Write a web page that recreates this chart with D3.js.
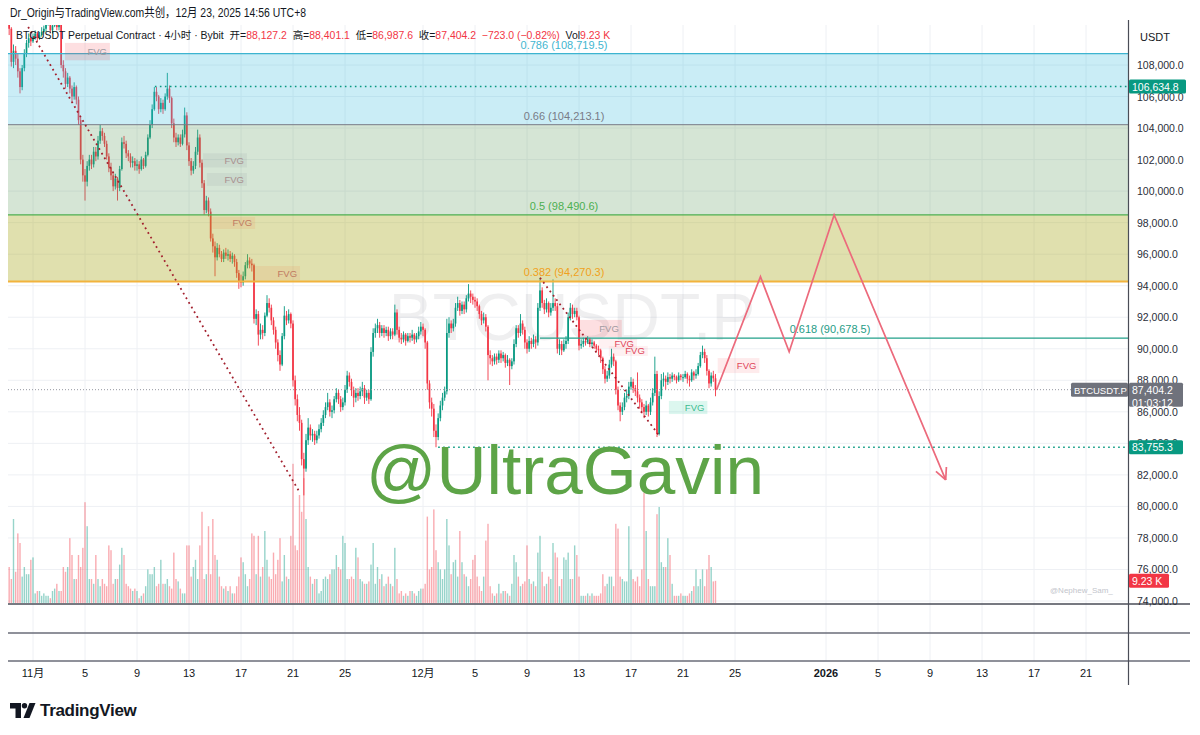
<!DOCTYPE html>
<html><head><meta charset="utf-8">
<script src="https://cdn.jsdelivr.net/npm/d3@7"></script>
<style>
body{margin:0;background:#fff;}
svg{display:block;font-family:"Liberation Sans","Noto Sans CJK SC",sans-serif;}
</style></head>
<body><svg id="c" width="1200" height="735"></svg>
<script>
// ---------------- DATA (prices in thousands of USDT, 4h bars from 2025-10-30 04:00 UTC+8) ----------------
const firstOpen = 110.6;
const closes = [
110.3,108.2,108.9,108.4,107.6,
106.6,107.8,108.7,109.4,109.7,109.5,
109.8,110.0,109.7,109.9,110.1,110.3,
110.6,110.9,110.2,110.5,110.8,110.4,
110.6,108.0,107.6,106.8,107.2,106.5,
106.0,106.6,105.8,104.5,102.0,101.0,
100.6,101.6,102.0,101.7,102.5,102.2,
103.2,103.8,103.5,103.0,102.2,101.5,
101.0,100.3,100.8,100.2,101.4,103.1,
103.0,102.4,102.2,101.8,101.9,101.6,
101.7,101.4,102.0,101.6,102.3,103.4,
104.2,105.2,106.3,106.0,105.2,105.6,
105.2,106.0,106.5,105.9,104.3,103.4,
103.1,103.4,103.0,103.6,104.8,102.9,
101.9,101.3,101.6,102.5,103.4,101.8,
100.5,98.8,99.4,98.7,97.0,96.5,
95.8,96.4,96.0,95.7,96.1,95.9,
96.0,95.7,95.9,95.5,94.8,94.3,
94.2,94.6,95.3,95.6,95.4,95.3,
91.9,92.2,90.9,91.2,91.0,92.1,
92.9,92.6,91.8,91.2,90.4,89.6,
89.0,90.8,92.1,91.8,92.2,91.6,
88.0,86.8,85.8,85.3,83.0,82.4,
84.2,85.0,84.5,84.6,84.2,84.5,
84.9,85.3,85.8,86.3,86.6,86.0,
86.1,86.8,87.2,86.8,86.3,86.6,
87.4,88.3,87.9,87.4,86.9,87.2,
87.0,87.3,87.5,86.9,87.2,86.8,
89.8,91.0,91.3,91.5,91.0,91.3,
91.0,91.2,90.8,91.1,90.9,92.3,
91.2,90.7,90.6,90.9,90.5,90.8,
90.7,90.9,90.6,90.8,91.1,91.4,
91.2,90.4,87.8,86.6,86.2,84.8,
84.4,85.6,86.4,86.9,87.3,91.0,
91.6,91.3,91.6,92.6,92.9,92.4,
92.8,92.5,93.2,93.5,93.3,93.1,
93.0,92.7,92.2,91.8,92.0,91.4,
89.6,89.4,89.2,89.5,89.3,89.7,
89.4,89.6,89.1,89.3,88.9,89.2,
90.3,91.3,91.0,91.6,91.2,90.4,
90.0,90.5,90.3,90.6,90.4,92.6,
93.7,92.9,92.5,92.9,92.3,92.6,
92.9,92.7,90.0,90.3,89.9,90.3,
90.5,92.0,92.6,92.2,92.4,92.0,
90.2,90.3,90.5,90.4,90.6,90.3,
90.4,90.2,90.0,89.9,89.4,88.7,
88.1,88.3,89.0,89.5,89.2,87.4,
86.4,86.0,86.3,86.9,87.0,87.6,
87.9,87.5,87.3,86.9,86.6,86.3,
86.0,86.4,86.0,86.6,87.2,88.4,
84.6,87.0,88.0,88.1,87.9,88.2,
88.1,88.3,88.2,88.0,88.3,88.2,
88.2,88.4,88.1,88.0,88.5,88.3,
88.4,88.9,89.6,89.8,89.4,88.6,
87.8,88.3,88.1272,87.4042
];
const highs = [
111.0,110.4,109.3,109.2,108.7,
107.8,108.0,109.0,109.6,110.0,110.0,
110.0,110.2,110.1,110.1,110.4,110.5,
110.9,111.2,111.0,110.7,111.1,110.9,
110.9,110.8,108.3,107.8,107.5,107.3,
106.7,106.9,106.7,106.0,104.7,102.3,
101.4,101.9,102.3,102.3,102.8,102.8,
103.5,104.2,104.0,103.7,103.2,102.4,
101.8,101.2,101.1,100.9,101.6,103.4,
103.5,103.2,102.6,102.4,102.2,102.1,
102.0,101.9,102.2,102.1,102.5,103.6,
104.5,105.5,106.6,106.6,106.1,105.9,
105.8,106.2,107.5,106.7,106.0,104.6,
103.7,103.6,103.6,103.9,105.3,105.0,
103.1,102.1,101.9,102.8,103.9,103.6,
102.0,100.7,99.7,99.6,98.9,97.3,
96.8,96.7,96.6,96.2,96.3,96.4,
96.3,96.2,96.1,96.0,95.7,95.0,
94.7,94.9,95.5,96.0,95.8,95.7,
95.4,92.5,92.4,91.6,91.5,92.3,
93.4,93.2,92.8,92.0,91.4,90.6,
89.9,91.0,92.7,92.4,92.5,92.3,
91.8,88.3,87.1,86.3,85.5,83.4,
84.6,85.6,85.2,84.9,84.8,84.8,
85.2,85.6,86.1,86.6,87.2,86.8,
86.4,87.0,87.5,87.4,87.0,86.9,
87.7,88.6,88.5,88.1,87.6,87.5,
87.5,87.6,87.9,87.7,87.4,87.4,
90.1,91.3,91.6,91.9,91.7,91.5,
91.5,91.4,91.4,91.3,91.3,92.8,
92.5,91.4,91.0,91.1,91.0,91.0,
91.0,91.2,91.0,91.0,91.4,91.7,
91.6,91.3,90.5,88.0,86.9,86.5,
85.2,85.9,86.7,87.2,87.6,91.9,
92.0,91.8,91.9,92.9,93.3,93.1,
93.0,93.0,93.4,94.1,93.7,93.5,
93.3,93.2,92.8,92.4,92.3,92.2,
91.5,89.9,89.6,89.7,89.7,89.9,
89.9,89.8,89.7,89.6,89.4,89.4,
90.6,91.5,91.5,92.2,91.8,91.4,
90.6,90.8,90.7,90.9,90.8,92.9,
94.5,93.9,93.1,93.2,93.0,92.9,
94.4,93.2,92.9,90.6,90.5,90.6,
90.8,92.3,92.9,92.8,92.6,92.6,
92.1,90.6,90.7,90.7,90.8,90.7,
90.6,90.5,90.3,90.2,90.0,89.5,
88.9,88.6,89.3,90.0,89.7,89.3,
87.6,86.6,86.6,87.2,87.4,87.9,
88.2,88.1,87.7,88.5,87.1,86.8,
86.5,86.7,86.5,86.9,87.5,89.5,
88.6,87.3,88.4,88.5,88.3,88.5,
88.4,88.5,88.4,88.3,88.5,88.4,
88.4,88.6,88.5,88.3,88.7,88.6,
88.7,89.1,89.8,90.2,90.0,89.6,
88.7,88.5,88.6,88.4011
];
const lows = [
109.9,107.9,107.8,108.0,107.2,
106.2,106.4,107.6,108.5,109.1,109.2,
109.4,109.6,109.5,109.6,109.8,110.0,
110.1,110.5,110.0,110.0,110.4,110.2,
110.2,107.8,107.2,106.5,106.6,106.2,
105.6,105.8,105.5,104.2,101.7,100.6,
99.4,100.3,101.3,101.4,101.5,101.9,
102.0,103.0,103.2,102.8,102.0,101.2,
100.7,100.0,100.1,99.4,100.0,101.3,
102.7,102.1,101.9,101.5,101.5,101.3,
101.3,101.1,101.3,101.4,101.5,102.2,
103.3,104.0,105.1,105.7,104.9,105.0,
104.9,105.1,105.8,105.6,104.0,103.1,
102.8,102.9,102.8,102.9,103.4,102.6,
101.6,101.0,101.1,101.4,102.3,101.5,
100.2,98.5,98.6,98.4,96.8,96.1,
94.6,95.6,95.8,95.5,95.5,95.7,
95.6,95.5,95.4,95.2,94.5,93.8,
93.9,94.0,94.4,95.1,95.1,94.9,
91.6,91.5,90.2,90.6,90.6,90.8,
92.0,92.3,91.5,90.9,90.0,89.2,
88.6,88.9,90.6,91.5,91.6,91.3,
87.6,86.4,85.4,84.8,82.6,80.7,
82.2,83.9,84.2,84.1,83.9,84.0,
84.3,84.7,85.1,85.6,86.1,85.7,
85.6,85.9,86.6,86.5,86.0,86.1,
86.4,87.2,87.6,87.0,86.3,86.6,
86.7,86.8,87.0,86.5,86.7,86.5,
86.7,89.5,90.7,91.0,90.7,90.8,
90.7,90.8,90.5,90.6,90.6,90.8,
90.9,90.4,90.3,90.4,90.2,90.4,
90.4,90.5,90.3,90.4,90.6,90.9,
90.8,90.0,87.4,86.2,85.7,84.4,
83.7553,84.2,85.4,86.1,86.7,87.1,
90.7,91.0,91.1,91.4,92.4,92.1,
92.2,92.2,92.3,93.0,92.9,92.8,
92.6,92.4,91.9,91.5,91.6,91.1,
88.0,89.0,88.9,89.0,89.0,89.1,
89.1,89.2,88.8,88.9,87.7,88.7,
89.0,90.1,90.7,90.8,90.9,90.0,
89.7,89.8,90.0,90.1,90.0,90.2,
92.4,92.6,92.2,92.3,92.0,92.1,
92.4,92.4,89.7,89.6,89.6,89.8,
90.0,90.3,91.8,91.9,92.0,91.8,
89.9,90.0,90.1,90.2,90.3,90.1,
90.1,90.0,89.8,89.6,89.1,88.4,
87.8,87.9,88.1,88.8,88.9,87.1,
86.1,85.4,85.8,86.1,86.6,86.8,
87.4,87.2,87.0,86.6,86.2,85.9,
85.6,85.8,85.7,85.8,86.4,87.0,
84.4,84.5,86.8,87.6,87.4,87.7,
87.8,87.9,88.0,87.8,87.9,88.0,
87.9,88.1,87.8,87.6,87.9,88.0,
88.1,88.3,88.8,89.4,89.1,88.3,
87.5,87.6,87.9,86.9876
];
// volume in K
const volumes = [
15,10,35,13,29,
25,11,15,12,12,18,
19,4,5,5,3,4,
3,3,2,5,6,8,
5,5,15,13,15,27,
20,10,10,20,15,23,
42,32,10,10,8,20,
10,7,10,8,7,24,
22,8,10,10,16,23,
20,8,7,6,5,6,
5,2,3,4,7,14,
12,12,15,7,8,18,
8,8,10,7,6,21,
10,9,6,4,4,24,
24,11,15,18,10,24,
38,10,12,32,12,35,
20,18,11,7,6,7,
5,7,4,4,7,11,
19,17,12,7,10,29,
28,12,28,11,15,30,
18,11,10,21,12,18,
27,9,20,11,10,28,
58,24,22,45,38,52,
35,15,11,8,10,10,
4,5,10,11,10,12,
14,14,20,15,14,28,
25,10,10,11,10,23,
19,10,9,8,8,9,
16,25,8,15,10,12,
7,8,11,8,7,23,
10,4,5,3,4,3,
5,5,4,3,5,6,
6,8,36,14,15,39,
22,17,14,10,14,35,
24,12,17,18,11,30,
17,12,11,7,10,18,
20,11,7,5,11,26,
33,7,4,3,4,8,
4,5,5,4,3,8,
20,17,11,7,8,9,
24,10,8,9,7,21,
28,13,7,8,11,10,
25,21,19,7,10,19,
18,21,10,10,24,20,
11,3,3,3,4,3,
4,3,3,3,4,12,
7,8,11,11,7,33,
31,11,10,9,9,32,
14,10,9,11,7,14,
46,30,10,7,7,7,
37,40,17,15,15,27,
20,8,3,3,3,4,
3,3,3,4,5,7,
14,7,10,14,7,14,
20,15,9,9.23
];
const firstBar = new Date(2025, 9, 30, 4, 0);

// price axis ticks
const priceTicks = [74000,76000,78000,80000,82000,84000,86000,88000,90000,92000,94000,96000,98000,100000,102000,104000,106000,108000];
// time axis ticks
const timeTicks = [[2025,10,1],[2025,10,5],[2025,10,9],[2025,10,13],[2025,10,17],[2025,10,21],[2025,10,25],[2025,11,1],[2025,11,5],[2025,11,9],[2025,11,13],[2025,11,17],[2025,11,21],[2025,11,25],[2026,0,1],[2026,0,5],[2026,0,9],[2026,0,13],[2026,0,17],[2026,0,21]];
const timeLabels = ["11月","5","9","13","17","21","25","12月","5","9","13","17","21","25","2026","5","9","13","17","21"];

// fib levels
const fibRatios = ["0.786","0.66","0.5","0.382","0.618"];
const fibPrices = [108719.5,104213.1,98490.6,94270.3,90678.5];
const fibStart = [null,null,null,null,[2025,11,10,0]];

// horizontal price marks
const peakLevel = 106634.8, peakStart = [2025,10,10,9];
const lowLevel = 83755.3, lowStart = [2025,11,2,4];
const lastPrice = 87404.2;
const countdown = "01:03:12";
const changeText = "−723.0 (−0.82%)";
const volText = "9.23 K";

// trend dotted lines [date, price]
const trend1 = [[[2025,9,31,0],111300],[[2025,10,21,13],80850]];
const trend2 = [[[2025,11,10,0],94500],[[2025,11,19,5],84450]];

// projected path
const projection = [[[2025,11,23,14],87404],[[2025,11,26,23],94570],[[2025,11,29,4],89810],[[2026,0,1,15],98490],[[2026,0,10,5],81680]];

// FVG boxes: start, end, top, bottom, kind
const fvgs = [
 [[2025,10,3,11],[2025,10,6,22],109400,108300,"pink"],
 [[2025,10,14,2],[2025,10,17,11],102400,101500,"gray"],
 [[2025,10,14,9],[2025,10,17,11],101150,100330,"gray"],
 [[2025,10,14,19],[2025,10,18,2],98360,97600,"tan"],
 [[2025,10,18,2],[2025,10,21,13],95250,94360,"tan"],
 [[2025,11,12,22],[2025,11,16,7],91830,90750,"pink"],
 [[2025,11,14,12],[2025,11,17,11],90620,90050,"pinkfaint"],
 [[2025,11,15,7],[2025,11,18,7],90180,89540,"pinkfaint"],
 [[2025,11,23,16],[2025,11,26,21],89410,88460,"red"],
 [[2025,11,19,22],[2025,11,22,21],86690,85860,"green"]
];

// ---------------- DRAWING ----------------
const D = a => new Date(a[0], a[1], a[2], a[3]||0, a[4]||0);
const svg = d3.select("#c");
const L = 8, R = 1128, T = 25, B = 604;
const x = d3.scaleTime().domain([new Date(2025,10,1), new Date(2025,11,1)]).range([33, 423]);
const y = d3.scaleLinear().domain([74000,108000]).range([601,65]);
const yv = d3.scaleLinear().domain([0,60]).range([603,459]);
const fmt = d3.format(",.1f");

const bars = closes.map((c,i)=>({
  t: new Date(firstBar.getTime() + i*4*3600*1000),
  o: (i===0? firstOpen : closes[i-1])*1000, c: c*1000, h: highs[i]*1000, l: lows[i]*1000, v: volumes[i]
}));

svg.append("rect").attr("width",1200).attr("height",735).attr("fill","#fff");
const defs = svg.append("defs");
defs.append("clipPath").attr("id","pane").append("rect").attr("x",L).attr("y",T).attr("width",R-L).attr("height",B-T);

// grid
const grid = svg.append("g");
grid.selectAll("line.h").data(priceTicks).join("line")
  .attr("x1",L).attr("x2",R).attr("y1",d=>y(d)).attr("y2",d=>y(d))
  .attr("stroke","#eef0f4").attr("stroke-width",1);
grid.selectAll("line.v").data(timeTicks).join("line")
  .attr("x1",d=>x(D(d))).attr("x2",d=>x(D(d))).attr("y1",T).attr("y2",661)
  .attr("stroke","#eef0f4").attr("stroke-width",1);

const pane = svg.append("g").attr("clip-path","url(#pane)");

// watermark
pane.append("text").attr("x",572).attr("y",340).attr("text-anchor","middle")
  .attr("font-size",66).attr("fill","#787b86").attr("fill-opacity",0.12).text("BTCUSDT.P");

// volume
pane.append("g").selectAll("rect").data(bars).join("rect")
  .attr("x",d=>x(d.t)-0.7).attr("width",1.4)
  .attr("y",d=>yv(d.v)).attr("height",d=>yv(0)-yv(d.v))
  .attr("fill",d=>d.c>=d.o?"rgba(8,153,129,0.42)":"rgba(242,54,69,0.42)");

// candles
const cg = pane.append("g");
cg.selectAll("line").data(bars).join("line")
  .attr("x1",d=>x(d.t)).attr("x2",d=>x(d.t)).attr("y1",d=>y(d.h)).attr("y2",d=>y(d.l))
  .attr("stroke",d=>d.c>=d.o?"#089981":"#f23645").attr("stroke-width",0.9);
cg.selectAll("rect").data(bars).join("rect")
  .attr("x",d=>x(d.t)-0.85).attr("width",1.7)
  .attr("y",d=>y(Math.max(d.o,d.c))).attr("height",d=>Math.max(1,Math.abs(y(d.o)-y(d.c))))
  .attr("fill",d=>d.c>=d.o?"#089981":"#f23645");

// fib zones
const zoneFills = ["rgba(60,190,220,0.27)","rgba(100,160,100,0.27)","rgba(170,168,30,0.36)"];
for(let i=0;i<3;i++){
  pane.append("rect").attr("x",L).attr("width",R-L)
    .attr("y",y(fibPrices[i])).attr("height",y(fibPrices[i+1])-y(fibPrices[i]))
    .attr("fill",zoneFills[i]);
}
const fibColors = ["#3db4d0","#787b86","#4caf50","#f2b33d","#22a08a"];
const fibWidths = [1.3,1,1.2,2,1.3];
const labelColors = ["#3fb6d0","#787b86","#4caf50","#f0a020","#1f9c86"];
fibPrices.forEach((p,i)=>{
  const x1 = fibStart[i]? x(D(fibStart[i])) : L;
  pane.append("line").attr("x1",x1).attr("x2",R).attr("y1",y(p)).attr("y2",y(p))
    .attr("stroke",fibColors[i]).attr("stroke-width",fibWidths[i]);
  svg.append("text").attr("x",(x1+R)/2 - 4).attr("y",y(p)-5).attr("text-anchor","middle")
    .attr("font-size",11).attr("fill",labelColors[i]).text(`${fibRatios[i]} (${fmt(p)})`);
});

// horizontal dotted levels
pane.append("line").attr("x1",x(D(peakStart))).attr("x2",R).attr("y1",y(peakLevel)).attr("y2",y(peakLevel))
  .attr("stroke","#089981").attr("stroke-width",1.6).attr("stroke-dasharray","1.6,3.4");
pane.append("line").attr("x1",x(D(lowStart))).attr("x2",R).attr("y1",y(lowLevel)).attr("y2",y(lowLevel))
  .attr("stroke","#089981").attr("stroke-width",1.6).attr("stroke-dasharray","1.6,3.4");
pane.append("line").attr("x1",L).attr("x2",R).attr("y1",y(lastPrice)).attr("y2",y(lastPrice))
  .attr("stroke","#9598a1").attr("stroke-width",1).attr("stroke-dasharray","1,2");

// trend dotted lines
[trend1,trend2].forEach(tl=>{
  pane.append("line").attr("x1",x(D(tl[0][0]))).attr("y1",y(tl[0][1]))
    .attr("x2",x(D(tl[1][0]))).attr("y2",y(tl[1][1]))
    .attr("stroke","#a3202e").attr("stroke-width",1.8).attr("stroke-dasharray","1.8,3.6");
});

// FVG boxes
const fvgStyle = {
  pink:{fill:"rgba(242,54,69,0.16)",text:"#a09aa0"},
  gray:{fill:"rgba(120,123,134,0.10)",text:"#a88f8f"},
  tan:{fill:"rgba(235,140,90,0.16)",text:"#c07a62"},
  pinkfaint:{fill:"rgba(242,54,69,0.07)",text:"#e0455a"},
  red:{fill:"rgba(242,54,69,0.10)",text:"#e0455a"},
  green:{fill:"rgba(8,200,140,0.14)",text:"#3dbb8f"}
};
fvgs.forEach(f=>{
  const st = fvgStyle[f[4]];
  const x1 = x(D(f[0])), x2 = x(D(f[1])), y1 = y(f[2]), y2 = y(f[3]);
  pane.append("rect").attr("x",x1).attr("y",y1).attr("width",x2-x1).attr("height",y2-y1).attr("fill",st.fill);
  pane.append("text").attr("x",x2-3).attr("y",(y1+y2)/2+3.5).attr("text-anchor","end")
    .attr("font-size",9.5).attr("fill",st.text).text("FVG");
});

// projection path
const pts = projection.map(p=>[x(D(p[0])), y(p[1])]);
svg.append("path").attr("d",d3.line()(pts)).attr("fill","none")
  .attr("stroke","#ec6a7c").attr("stroke-width",1.7).attr("stroke-linejoin","miter");
{
  const [ax,ay] = pts[pts.length-1], [bx,by] = pts[pts.length-2];
  const ang = Math.atan2(ay-by, ax-bx), len = 13;
  [0.45,-0.45].forEach(da=>{
    svg.append("line").attr("x1",ax).attr("y1",ay)
      .attr("x2",ax - len*Math.cos(ang+da)).attr("y2",ay - len*Math.sin(ang+da))
      .attr("stroke","#ec6a7c").attr("stroke-width",1.7);
  });
}

// overlay texts
svg.append("text").attr("x",366).attr("y",494).attr("font-size",69).attr("fill","#5da447")
  .attr("textLength",398).attr("lengthAdjust","spacingAndGlyphs").text("@UltraGavin");
svg.append("text").attr("x",1050).attr("y",593).attr("font-size",8).attr("fill","#c3c5cc").text("@Nephew_Sam_");

// pane separators
[604,633,661].forEach((yy,i)=>{
  svg.append("line").attr("x1",L).attr("x2",1190).attr("y1",yy).attr("y2",yy)
    .attr("stroke",i===0?"#4a4d57":"#6a6d78").attr("stroke-width",i===0?1.6:1.3);
});
svg.append("line").attr("x1",R+0.5).attr("x2",R+0.5).attr("y1",T-5).attr("y2",685)
  .attr("stroke","#4a4d57").attr("stroke-width",1.2);

// right axis
svg.append("text").attr("x",1140).attr("y",41).attr("font-size",11).attr("fill","#131722").text("USDT");
svg.selectAll("text.pt").data(priceTicks).join("text")
  .attr("x",1137).attr("y",d=>y(d)+4).attr("font-size",10.5).attr("fill","#2a2e39").text(d=>fmt(d));

function badge(x0,yc,w,h,fill,lines,fs){
  svg.append("rect").attr("x",x0).attr("y",yc-7).attr("width",w).attr("height",h).attr("rx",1.5).attr("fill",fill);
  lines.forEach((s,i)=>svg.append("text").attr("x",x0+3).attr("y",yc+4+i*13).attr("font-size",fs||10.5).attr("fill","#fff").text(s));
}
badge(1129,y(peakLevel),57,14,"#089981",[fmt(peakLevel)]);
badge(1071,y(lastPrice),57,14,"#6f727c",["BTCUSDT.P"],9.5);
badge(1129,y(lastPrice),54,24,"#6f727c",[fmt(lastPrice),countdown]);
badge(1129,y(lowLevel),54,14,"#089981",[fmt(lowLevel)]);
badge(1129,yv(volumes[volumes.length-1]),40,14,"#f23645",[volText]);

// time axis
svg.selectAll("text.tt").data(timeTicks).join("text")
  .attr("x",(d)=>x(D(d))).attr("y",677).attr("text-anchor","middle")
  .attr("font-size",11).attr("font-weight",(d,i)=>timeLabels[i]==="2026"?"bold":"normal")
  .attr("fill","#131722").text((d,i)=>timeLabels[i]);

// header
svg.append("text").attr("x",10).attr("y",17).attr("font-size",12.5).attr("fill","#131722")
  .attr("textLength",296).attr("lengthAdjust","spacingAndGlyphs")
  .text("Dr_Origin与TradingView.com共创，12月 23, 2025 14:56 UTC+8");
const last = bars[bars.length-1];
const legendParts = [
  ["BTCUSDT Perpetual Contract · 4小时 · Bybit  ","#131722"],
  ["开=","#131722"],[fmt(last.o)+"  ","#f23645"],
  ["高=","#131722"],[fmt(last.h)+"  ","#f23645"],
  ["低=","#131722"],[fmt(last.l)+"  ","#f23645"],
  ["收=","#131722"],[fmt(last.c)+"  ","#f23645"],
  [changeText+"  ","#f23645"],
  ["Vol","#131722"],[volText,"#f23645"]
];
const lgText = svg.append("text").attr("x",16).attr("y",39).attr("font-size",11.5).attr("xml:space","preserve").style("white-space","pre");
legendParts.forEach(p=>lgText.append("tspan").attr("fill",p[1]).text(p[0]));
{
  const w = lgText.node().getComputedTextLength();
  lgText.attr("font-size", 11.5*595/w);
}

// TradingView logo
const lg = svg.append("g").attr("fill","#131722");
lg.append("path").attr("d","M10,703 H21 V718 H15.5 V708.5 H10 Z");
lg.append("circle").attr("cx",24.5).attr("cy",705.8).attr("r",2.7);
lg.append("path").attr("d","M29.5,703 H35.5 L29.5,718 H23.5 Z");
svg.append("text").attr("x",40).attr("y",716).attr("font-size",17).attr("font-weight","bold")
  .attr("fill","#131722").attr("letter-spacing",-0.3).text("TradingView");
</script>
</body></html>
